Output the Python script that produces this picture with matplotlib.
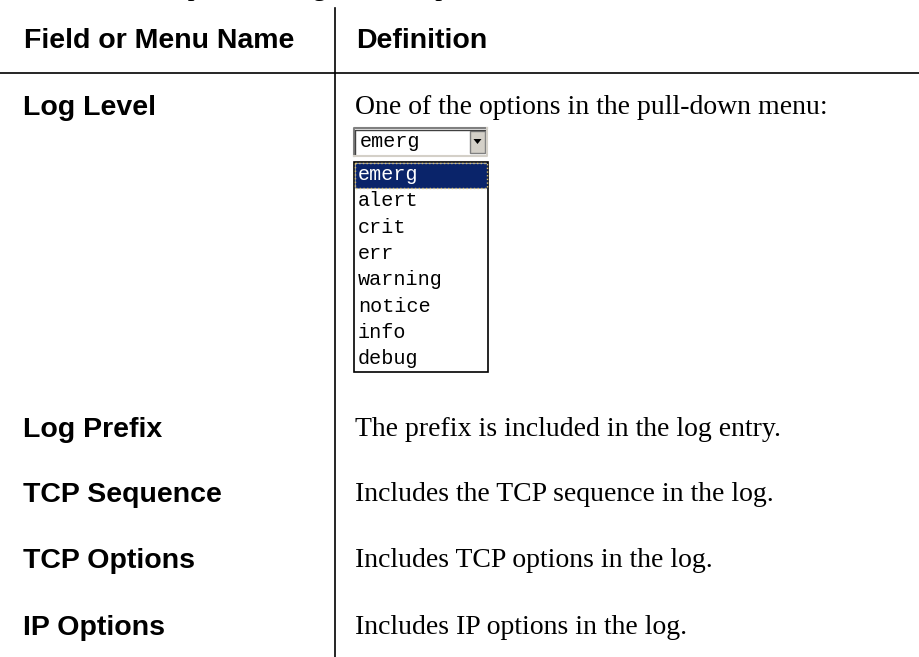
import matplotlib.pyplot as plt
from matplotlib.patches import Rectangle, Polygon

# table content
header = ['Field or Menu Name', 'Definition']
fields = ['Log Level', 'Log Prefix', 'TCP Sequence', 'TCP Options', 'IP Options']
definitions = ['One of the options in the pull-down menu:',
               'The prefix is included in the log entry.',
               'Includes the TCP sequence in the log.',
               'Includes TCP options in the log.',
               'Includes IP options in the log.']
menu_options = ['emerg', 'alert', 'crit', 'err', 'warning', 'notice', 'info', 'debug']
selected = 'emerg'
# line of text above the table, only its lower edge is in view
top_line = 'This table lists options in log window, plus their definitions.'

# row baselines in pixels (top = 0)
row_y = [115, 437, 502, 568, 635]
col_x = [23, 355]

sans = 'Liberation Sans'
serif = 'Liberation Serif'
mono = 'Liberation Mono'

fig = plt.figure(figsize=(9.2, 6.57), dpi=100)
ax = fig.add_axes([0, 0, 1, 1])
ax.set_xlim(0, 920)
ax.set_ylim(657, 0)
ax.axis('off')

ax.text(5, -5, top_line, family=serif, fontsize=20, va='baseline', color='black')

# grid lines
ax.plot([335, 335], [8, 657], color='black', lw=1.2)
ax.plot([0, 920], [73, 73], color='black', lw=1.2)

# header
for x, h in zip(col_x, header):
    ax.text(x + 1, 48, h, family=sans, weight='bold', fontsize=20.5, va='baseline')

for y, f, d in zip(row_y, fields, definitions):
    ax.text(col_x[0], y, f, family=sans, weight='bold', fontsize=20.5, va='baseline')
    ax.text(col_x[1], y - 1, d, family=serif, fontsize=20, va='baseline')

# combobox
cx0, cx1, cy0, cy1 = 354, 487, 128, 156
ax.add_patch(Rectangle((cx0, cy0), cx1 - cx0, cy1 - cy0, facecolor='white', edgecolor='none'))
ax.plot([cx0, cx0, cx1], [cy1, cy0, cy0], color='#808080', lw=1.5)
ax.plot([cx0 + 1.5, cx0 + 1.5, cx1 - 1.5], [cy1 - 1.5, cy0 + 1.5, cy0 + 1.5], color='#404040', lw=1)
ax.plot([cx0, cx1, cx1], [cy1, cy1, cy0], color='#d4d0c8', lw=1.5)
ax.add_patch(Rectangle((470, 131), 15, 22, facecolor='#d4d0c8', edgecolor='#808080', lw=1))
ax.add_patch(Polygon([[473.5, 139], [481.5, 139], [477.5, 144]], closed=True, facecolor='black'))
ax.text(360, 147, selected, family=mono, fontsize=14.5, va='baseline')

# dropdown list
lx0, lx1, ly0, ly1 = 354, 488, 162, 372
step = 26.3
ax.add_patch(Rectangle((lx0, ly0), lx1 - lx0, ly1 - ly0, facecolor='white', edgecolor='black', lw=1.2))
for i, opt in enumerate(menu_options):
    yb = 180 + i * step
    color = 'black'
    if opt == selected:
        ax.add_patch(Rectangle((lx0 + 1, ly0 + 1), lx1 - lx0 - 2, 25,
                               facecolor='#0a246a', edgecolor='#d8c070', lw=1, ls=':'))
        color = 'white'
    ax.text(lx0 + 4, yb, opt, family=mono, fontsize=14.5, va='baseline', color=color)

fig.savefig('out.png', dpi=100)
